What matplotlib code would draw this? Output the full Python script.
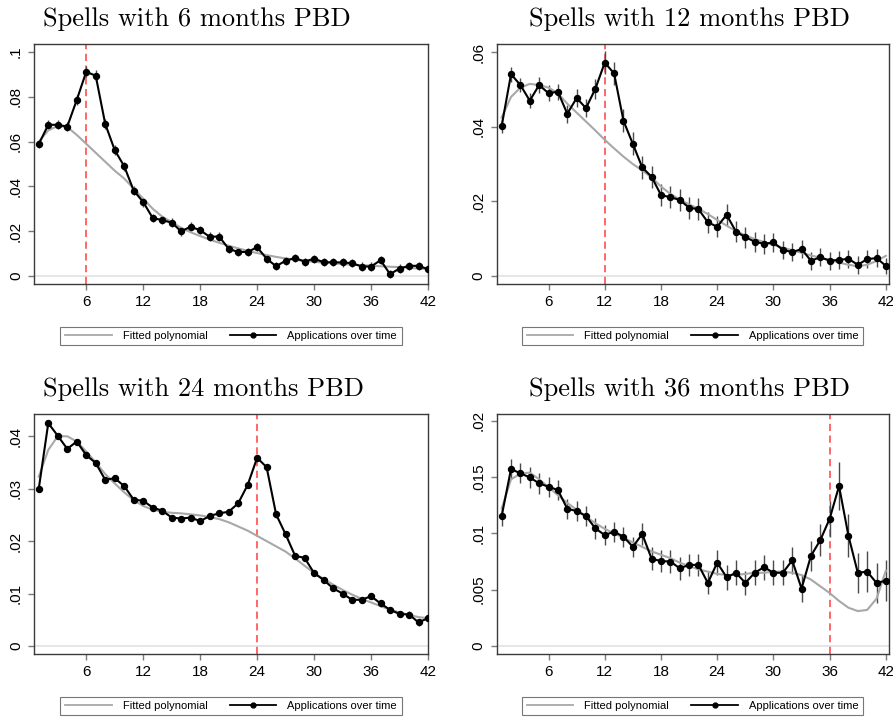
import matplotlib
matplotlib.use("Agg")
import matplotlib.pyplot as plt
from matplotlib.lines import Line2D

# ---------- data ----------
months = list(range(1, 43))

apps_6 = [0.0589, 0.0675, 0.0675, 0.0667, 0.0786, 0.0912, 0.0894, 0.0679, 0.0562, 0.0490,
          0.0381, 0.0330, 0.0259, 0.0249, 0.0238, 0.0199, 0.0220, 0.0204, 0.0175, 0.0176,
          0.0121, 0.0107, 0.0107, 0.0128, 0.0077, 0.0043, 0.0068, 0.0080, 0.0064, 0.0077,
          0.0061, 0.0061, 0.0060, 0.0057, 0.0042, 0.0042, 0.0070, 0.0008, 0.0033, 0.0045,
          0.0045, 0.0030]
fit_6 = [0.0600, 0.0650, 0.0670, 0.0665, 0.0630, 0.0590, 0.0550, 0.0510, 0.0470, 0.0435,
         0.0390, 0.0345, 0.0300, 0.0265, 0.0240, 0.0215, 0.0195, 0.0178, 0.0162, 0.0148,
         0.0135, 0.0123, 0.0112, 0.0102, 0.0093, 0.0085, 0.0078, 0.0072, 0.0067, 0.0063,
         0.0059, 0.0056, 0.0053, 0.0050, 0.0048, 0.0046, 0.0043, 0.0041, 0.0039, 0.0036,
         0.0033, 0.0031]
se_6 = [0.0019, 0.0020, 0.0020, 0.0020, 0.0022, 0.0024, 0.0024, 0.0022, 0.0021, 0.0021,
        0.0020, 0.0020, 0.0019, 0.0019, 0.0019, 0.0019, 0.0019, 0.0019, 0.0019, 0.0019,
        0.0018, 0.0018, 0.0018, 0.0018, 0.0018, 0.0018, 0.0018, 0.0018, 0.0018, 0.0018,
        0.0018, 0.0018, 0.0018, 0.0018, 0.0018, 0.0018, 0.0018, 0.0018, 0.0018, 0.0018,
        0.0018, 0.0018]

apps_12 = [0.0402, 0.0541, 0.0512, 0.0470, 0.0512, 0.0490, 0.0494, 0.0435, 0.0477, 0.0450,
           0.0502, 0.0572, 0.0543, 0.0416, 0.0354, 0.0291, 0.0266, 0.0217, 0.0211, 0.0204,
           0.0183, 0.0179, 0.0144, 0.0132, 0.0164, 0.0119, 0.0104, 0.0092, 0.0086, 0.0090,
           0.0070, 0.0064, 0.0072, 0.0041, 0.0050, 0.0041, 0.0043, 0.0046, 0.0030, 0.0045,
           0.0048, 0.0027]
fit_12 = [0.0425, 0.0480, 0.0505, 0.0515, 0.0512, 0.0505, 0.0490, 0.0462, 0.0438, 0.0414,
          0.0390, 0.0365, 0.0342, 0.0320, 0.0300, 0.0283, 0.0264, 0.0240, 0.0220, 0.0205,
          0.0192, 0.0180, 0.0166, 0.0150, 0.0135, 0.0120, 0.0109, 0.0099, 0.0091, 0.0083,
          0.0076, 0.0069, 0.0062, 0.0055, 0.0049, 0.0043, 0.0036, 0.0030, 0.0026, 0.0030,
          0.0040, 0.0054]
se_12 = [0.0018, 0.0020, 0.0020, 0.0020, 0.0022, 0.0022, 0.0022, 0.0024, 0.0024, 0.0025,
         0.0027, 0.0031, 0.0031, 0.0031, 0.0031, 0.0031, 0.0030, 0.0030, 0.0030, 0.0030,
         0.0030, 0.0030, 0.0028, 0.0028, 0.0030, 0.0028, 0.0028, 0.0027, 0.0026, 0.0026,
         0.0025, 0.0025, 0.0025, 0.0024, 0.0024, 0.0024, 0.0024, 0.0024, 0.0024, 0.0024,
         0.0024, 0.0022]

apps_24 = [0.0300, 0.0425, 0.0401, 0.0376, 0.0390, 0.0364, 0.0349, 0.0317, 0.0320, 0.0305,
           0.0279, 0.0277, 0.0264, 0.0258, 0.0245, 0.0243, 0.0245, 0.0238, 0.0248, 0.0253,
           0.0256, 0.0272, 0.0307, 0.0359, 0.0341, 0.0251, 0.0213, 0.0172, 0.0168, 0.0139,
           0.0126, 0.0110, 0.0100, 0.0088, 0.0088, 0.0095, 0.0081, 0.0069, 0.0061, 0.0060,
           0.0045, 0.0053]
fit_24 = [0.0323, 0.0374, 0.0400, 0.0400, 0.0390, 0.0371, 0.0350, 0.0328, 0.0310, 0.0293,
          0.0278, 0.0267, 0.0260, 0.0256, 0.0254, 0.0253, 0.0251, 0.0249, 0.0246, 0.0242,
          0.0236, 0.0228, 0.0220, 0.0210, 0.0200, 0.0190, 0.0180, 0.0167, 0.0153, 0.0139,
          0.0128, 0.0117, 0.0107, 0.0098, 0.0090, 0.0083, 0.0076, 0.0069, 0.0064, 0.0059,
          0.0055, 0.0053]
se_24 = [0.0004, 0.0005, 0.0005, 0.0005, 0.0005, 0.0005, 0.0005, 0.0005, 0.0005, 0.0005,
         0.0005, 0.0005, 0.0005, 0.0005, 0.0005, 0.0005, 0.0005, 0.0005, 0.0005, 0.0005,
         0.0005, 0.0006, 0.0006, 0.0006, 0.0006, 0.0006, 0.0006, 0.0006, 0.0006, 0.0006,
         0.0006, 0.0006, 0.0006, 0.0006, 0.0006, 0.0006, 0.0006, 0.0006, 0.0006, 0.0006,
         0.0006, 0.0006]

apps_36 = [0.01154, 0.01571, 0.01533, 0.01497, 0.01444, 0.01414, 0.01385, 0.01219, 0.01198, 0.01154,
           0.01044, 0.00985, 0.01015, 0.00970, 0.00881, 0.00994, 0.00775, 0.00754, 0.00750, 0.00690,
           0.00720, 0.00720, 0.00560, 0.00740, 0.00610, 0.00650, 0.00560, 0.00650, 0.00700, 0.00650,
           0.00650, 0.00760, 0.00510, 0.00800, 0.00940, 0.01130, 0.01420, 0.00980, 0.00650, 0.00660,
           0.00560, 0.00580]
fit_36 = [0.0122, 0.0148, 0.0153, 0.0154, 0.0148, 0.0141, 0.0134, 0.0127, 0.0121, 0.0115,
          0.0109, 0.0104, 0.0100, 0.0096, 0.0092, 0.0088, 0.0084, 0.0081, 0.0078, 0.0074,
          0.0071, 0.0068, 0.0066, 0.0064, 0.0063, 0.0063, 0.0064, 0.0065, 0.0065, 0.0066,
          0.0066, 0.0065, 0.0063, 0.0059, 0.0053, 0.0047, 0.0040, 0.0034, 0.0031, 0.0032,
          0.0042, 0.0067]
se_36 = [0.0009, 0.0009, 0.0009, 0.0009, 0.0009, 0.0009, 0.0009, 0.0009, 0.0009, 0.0009,
         0.0009, 0.0009, 0.0009, 0.0009, 0.0009, 0.0010, 0.0010, 0.0010, 0.0010, 0.0010,
         0.0010, 0.0010, 0.0010, 0.0011, 0.0011, 0.0011, 0.0011, 0.0011, 0.0011, 0.0011,
         0.0011, 0.0012, 0.0012, 0.0013, 0.0014, 0.0016, 0.0021, 0.0019, 0.0018, 0.0018,
         0.0018, 0.0018]

x_ticks = [6, 12, 18, 24, 30, 36, 42]

panels = [
    dict(title="Spells with 6 months PBD", pbd=6, apps=apps_6, fit=fit_6, se=se_6,
         yticks=[0, 0.02, 0.04, 0.06, 0.08, 0.1],
         ylabels=["0", ".02", ".04", ".06", ".08", ".1"],
         ylim=(-0.0036, 0.1036), xlim=(0.5, 42.0), title_x=0.022),
    dict(title="Spells with 12 months PBD", pbd=12, apps=apps_12, fit=fit_12, se=se_12,
         yticks=[0, 0.02, 0.04, 0.06],
         ylabels=["0", ".02", ".04", ".06"],
         ylim=(-0.00215, 0.0622), xlim=(0.47, 42.3), title_x=0.082),
    dict(title="Spells with 24 months PBD", pbd=24, apps=apps_24, fit=fit_24, se=se_24,
         yticks=[0, 0.01, 0.02, 0.03, 0.04],
         ylabels=["0", ".01", ".02", ".03", ".04"],
         ylim=(-0.00153, 0.04425), xlim=(0.5, 42.0), title_x=0.022),
    dict(title="Spells with 36 months PBD", pbd=36, apps=apps_36, fit=fit_36, se=se_36,
         yticks=[0, 0.005, 0.01, 0.015, 0.02],
         ylabels=["0", ".005", ".01", ".015", ".02"],
         ylim=(-0.00071, 0.0206), xlim=(0.47, 42.3), title_x=0.082),
]

# axes boxes in figure fractions (left, bottom, width, height)
boxes = [
    (0.0381, 0.6056, 0.4412, 0.3333),
    (0.5562, 0.6056, 0.4390, 0.3333),
    (0.0381, 0.0917, 0.4412, 0.3333),
    (0.5562, 0.0917, 0.4390, 0.3333),
]

frame_col = "#3a3a3a"
fit_col = "#a8a8a8"
red_col = "#ff5c5c"

fig = plt.figure(figsize=(8.93, 7.2), dpi=100)
fig.patch.set_facecolor("white")

for p, box in zip(panels, boxes):
    ax = fig.add_axes(box)
    ax.axhline(0, color="#e2e2e2", lw=1.2, zorder=0)
    ax.axvline(p["pbd"], color=red_col, lw=1.3, ls=(0, (4, 2.5)), zorder=1)
    ax.errorbar(months, p["apps"], yerr=p["se"], fmt="none", ecolor="#4a4a4a",
                elinewidth=1.0, capsize=0, zorder=2)
    ax.plot(months, p["fit"], color=fit_col, lw=1.5, zorder=3)
    ax.plot(months, p["apps"], color="black", lw=1.5, marker="o", ms=4.3, zorder=4)

    ax.set_xlim(*p["xlim"])
    ax.set_ylim(*p["ylim"])
    ax.set_xticks(x_ticks)
    ax.set_xticklabels([str(t) for t in x_ticks], fontsize=11, family="Liberation Sans")
    ax.set_yticks(p["yticks"])
    ax.set_yticklabels(p["ylabels"], fontsize=11, family="Liberation Sans",
                       rotation=90, va="center")
    ax.tick_params(axis="both", length=4, width=1, color="#7a7a7a", pad=4)
    for s in ax.spines.values():
        s.set_color(frame_col)
        s.set_linewidth(1.0)

    ax.text(p["title_x"], 1.075, p["title"], transform=ax.transAxes,
            fontsize=19, family="cmr10", ha="left", va="baseline")

    handles = [
        Line2D([], [], color=fit_col, lw=1.3),
        Line2D([], [], color="black", lw=1.3, marker="o", ms=3.5),
    ]
    leg = ax.legend(handles, ["Fitted polynomial", "Applications over time"],
                    loc="center", bbox_to_anchor=(0.5, -0.217), ncol=2,
                    frameon=True, fancybox=False, handlelength=4.2,
                    columnspacing=2.0, handletextpad=1.0, borderpad=0.4,
                    prop={"family": "Liberation Sans", "size": 8})
    leg.get_frame().set_edgecolor("#555555")
    leg.get_frame().set_linewidth(0.8)

fig.savefig("out.png", dpi=100, facecolor="white")
